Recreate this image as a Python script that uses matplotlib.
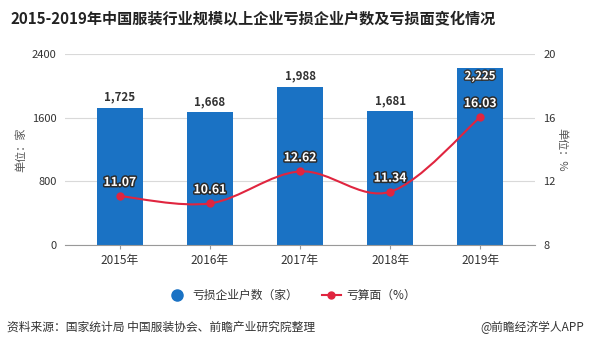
import numpy as np
import matplotlib.pyplot as plt
from matplotlib.path import Path
from matplotlib.patches import PathPatch
from matplotlib.lines import Line2D
import matplotlib.patheffects as pe

plt.rcParams['font.family'] = ['Noto Sans CJK SC', 'DejaVu Sans']

years = ['2015年', '2016年', '2017年', '2018年', '2019年']
loss_firms = [1725, 1668, 1988, 1681, 2225]
loss_ratio = [11.07, 10.61, 12.62, 11.34, 16.03]

bar_color = '#1a72c4'
line_color = '#e0253f'

fig = plt.figure(figsize=(5.9, 3.46), dpi=100)
ax = fig.add_axes([0.110, 0.292, 0.797, 0.552])
ax2 = ax.twinx()

x = np.arange(len(years))
ax.bar(x, loss_firms, width=0.51, color=bar_color, zorder=2)
ax.set_xlim(-0.61, 4.61)
ax.set_ylim(0, 2400)
ax.set_yticks([0, 800, 1600, 2400])
ax.grid(axis='y', color='#d9d9d9', linewidth=0.8, zorder=0)
ax.set_axisbelow(True)
ax.set_xticks(x)
ax.set_xticklabels(years)
for s in ['top', 'left', 'right']:
    ax.spines[s].set_visible(False)
    ax2.spines[s].set_visible(False)
ax2.spines['bottom'].set_visible(False)
ax.spines['bottom'].set_color('#999999')
ax.tick_params(axis='y', length=0, labelsize=8, colors='#333333', pad=6)
ax.tick_params(axis='x', length=3, color='#999999', labelsize=8.5, colors='#333333')
ax.set_ylabel('单位：家', fontsize=8, color='#555555', labelpad=4)

for i, v in enumerate(loss_firms):
    if i == len(loss_firms) - 1:
        ax.text(i, v - 20, f'{v:,}', ha='center', va='top', fontsize=8.3, fontweight='bold',
                color='white', path_effects=[pe.withStroke(linewidth=2, foreground='#333333')], zorder=5)
    else:
        ax.text(i, v + 50, f'{v:,}', ha='center', va='bottom', fontsize=8.3, fontweight='bold',
                color='#333333', zorder=5)

# smooth curve through the points (Catmull-Rom as cubic Bezier)
ax2.set_ylim(8, 20)
ax2.set_yticks([8, 12, 16, 20])
ax2.tick_params(axis='y', length=0, labelsize=8, colors='#333333', pad=6)
ax2.set_ylabel('单位：%', fontsize=8, color='#555555', rotation=270, labelpad=8)

pts = np.column_stack([x, loss_ratio]).astype(float)
verts = [tuple(pts[0])]
codes = [Path.MOVETO]
n = len(pts)
for i in range(n - 1):
    p0 = pts[max(i - 1, 0)]
    p1 = pts[i]
    p2 = pts[i + 1]
    p3 = pts[min(i + 2, n - 1)]
    c1 = p1 + (p2 - p0) / 6
    c2 = p2 - (p3 - p1) / 6
    verts += [tuple(c1), tuple(c2), tuple(p2)]
    codes += [Path.CURVE4] * 3
ax2.add_patch(PathPatch(Path(verts, codes), facecolor='none', edgecolor=line_color,
                        linewidth=1.5, zorder=3))
ax2.plot(x, loss_ratio, 'o', color=line_color, markersize=5, zorder=4)
for i, v in enumerate(loss_ratio):
    ax2.text(i, v + 0.45, f'{v:.2f}', ha='center', va='bottom', fontsize=8.8, fontweight='bold',
             color='white', path_effects=[pe.withStroke(linewidth=2.2, foreground='#2b2b2b')], zorder=5)

handles = [
    Line2D([], [], marker='o', linestyle='none', color=bar_color, markersize=8),
    Line2D([], [], marker='o', color=line_color, markersize=5, linewidth=1.5),
]
fig.legend(handles, ['亏损企业户数（家）', '亏算面（%）'], loc='center', bbox_to_anchor=(0.495, 0.147),
           ncol=2, frameon=False, fontsize=8.5, columnspacing=2.0, handlelength=1.6,
           handletextpad=0.5, labelcolor='#333333')

fig.text(0.017, 0.948, '2015-2019年中国服装行业规模以上企业亏损企业户数及亏损面变化情况',
         fontsize=10.9, fontweight='bold', color='#222222', va='center')
fig.text(0.012, 0.055, '资料来源：国家统计局 中国服装协会、前瞻产业研究院整理', fontsize=8.5,
         color='#333333', va='center')
fig.text(0.99, 0.055, '@前瞻经济学人APP', fontsize=8.5, color='#333333', va='center', ha='right')

fig.savefig('out.png', dpi=100)
